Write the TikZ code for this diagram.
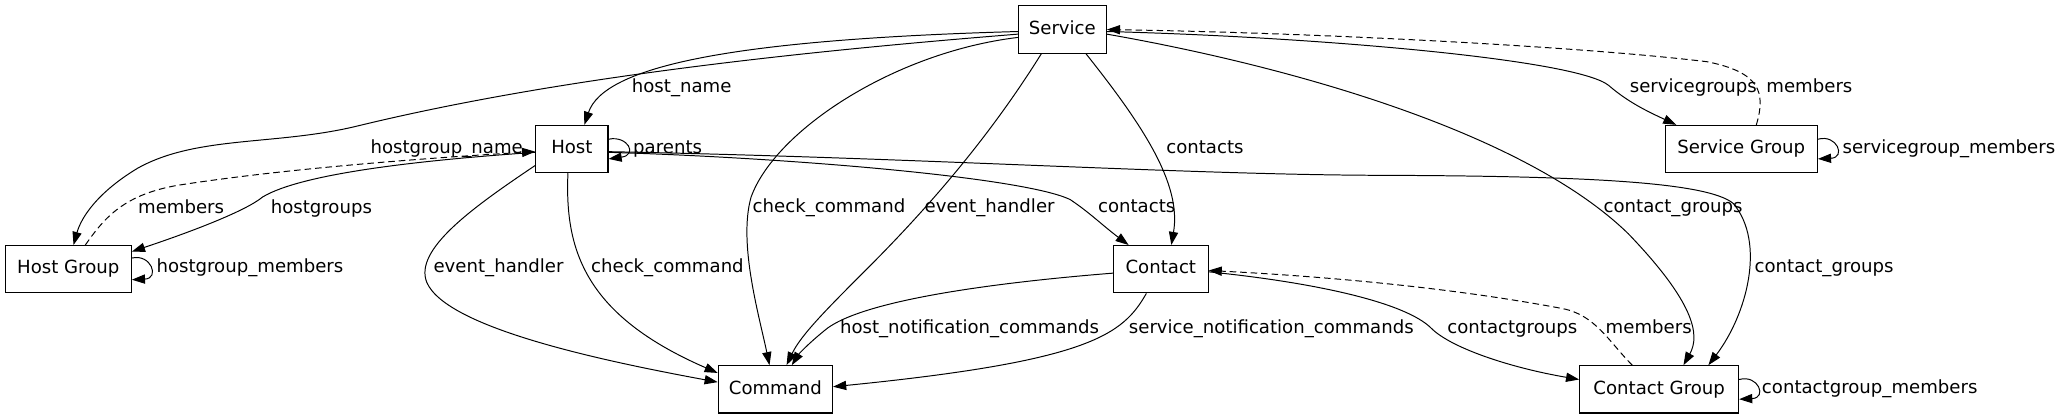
\documentclass[tikz,border=0pt]{standalone}
\usepackage{fontspec}
\setmainfont{DejaVu Sans}
\usetikzlibrary{arrows.meta,calc}
\newcommand\labfont{\fontsize{13.85pt}{16pt}\selectfont}
\begin{document}
\begin{tikzpicture}[x=1bp,y=-1bp,
  box/.style={draw,line width=0.85bp,rectangle,minimum height=36bp,inner sep=0pt,font=\labfont,text height=10.2bp,text depth=3bp},
  lab/.style={anchor=west,inner sep=0pt,font=\labfont,text height=10.2bp,text depth=3bp},
  edge/.style={line width=0.75bp,-{Triangle[length=10bp,width=7bp]}},
  dedge/.style={edge,dash pattern=on 5bp off 3bp}]
\useasboundingbox (0,0) rectangle (1568,319);
% nodes
\node[box,minimum width=67bp] (svc) at (809,22.5) {Service};
\node[box,minimum width=55bp] (host) at (435.5,113.5) {Host};
\node[box,minimum width=116bp] (sg) at (1326,113.5) {Service Group};
\node[box,minimum width=96bp] (hg) at (52,205) {Host Group};
\node[box,minimum width=72bp] (ct) at (884,205) {Contact};
\node[box,minimum width=87bp] (cmd) at (590.5,296.5) {Command};
\node[box,minimum width=121bp] (cg) at (1263.5,296.5) {Contact Group};
% labels
\node[lab] (l1) at (481,67) {host\_name};
\node[lab] (l2) at (282,113) {hostgroup\_name};
\node[lab] (l3) at (105,159) {members};
\node[lab] (l4) at (206,159) {hostgroups};
\node[lab] (l5) at (482,113) {parents};
\node[lab] (l6) at (119,204) {hostgroup\_members};
\node[lab] (l7) at (330,204) {event\_handler};
\node[lab] (l8) at (450,204) {check\_command};
\node[lab] (l9) at (573,158.6) {check\_command};
\node[lab] (l10) at (704,158.6) {event\_handler};
\node[lab] (l11) at (836,158.6) {contacts};
\node[lab] (l12) at (888,113) {contacts};
\node[lab] (l13) at (639.5,250) {host\_notification\_commands};
\node[lab] (l14) at (859.5,250) {service\_notification\_commands};
\node[lab] (l15) at (1241,67) {servicegroups};
\node[lab] (l16) at (1345,67) {members};
\node[lab] (l17) at (1403,113) {servicegroup\_members};
\node[lab] (l18) at (1221,158.6) {contact\_groups};
\node[lab] (l19) at (1336,204) {contact\_groups};
\node[lab] (l20) at (1102,250) {contactgroups};
\node[lab] (l21) at (1222.6,250) {members};
\node[lab] (l22) at (1341.6,296) {contactgroup\_members};
% edges
\draw[edge] ($(svc.west)+(0,1.5)$) .. controls (560,30) and (460,50) .. ($(host.north)+(9.5,0)$);
\draw[edge] ($(svc.west)+(0,3.5)$) .. controls (600,40) and (420,60) .. (272,96) .. controls (210,111) and (150,103) .. (105,128) .. controls (75,146) and (62,165) .. ($(hg.north)+(4,0)$);
\draw[dedge] ($(hg.north)+(13,0)$) .. controls (80,165) and (95,148) .. (136,141) .. controls (220,128) and (330,120) .. ($(host.west)+(0,2)$);
\draw[edge] ($(host.west)+(0,2.5)$) .. controls (320,122) and (230,132) .. (200,150) .. controls (188,160) and (150,175) .. ($(hg.north east)+(0,5)$);
\draw[edge] ($(host.east)+(0,-7.5)$) .. controls (478,103) and (486,118) .. ($(host.east)+(0,7.5)$);
\draw[edge] ($(host.west)+(0,12.5)$) .. controls (360,158) and (315,190) .. (325,215) .. controls (340,250) and (460,275) .. ($(cmd.west)+(0,-5.5)$);
\draw[edge] ($(host.south)+(-3,0)$) .. controls (430,190) and (445,240) .. ($(cmd.west)+(0,-12.5)$);
\draw[edge] ($(svc.west)+(0,6)$) .. controls (680,40) and (590,100) .. (572,150) .. controls (562,185) and (578,240) .. ($(cmd.north)+(-4.5,0)$);
\draw[edge] ($(svc.south)+(-16,0)$) .. controls (750,110) and (700,165) .. (660,205) .. controls (630,235) and (610,255) .. ($(cmd.north)+(8.5,0)$);
\draw[edge] ($(ct.west)+(0,3)$) .. controls (760,215) and (660,228) .. (630,250) .. controls (615,262) and (608,270) .. ($(cmd.north)+(12.5,0)$);
\draw[edge] ($(ct.south)+(-11,0)$) .. controls (855,255) and (830,275) .. ($(cmd.east)+(0,-2)$);
\draw[edge] ($(host.east)+(0,2.5)$) .. controls (600,120) and (780,135) .. (815,152) .. controls (830,162) and (840,172) .. ($(ct.north)+(-24.5,0)$);
\draw[edge] ($(host.east)+(0,2)$) .. controls (700,120) and (900,133) .. (1050,133.5) .. controls (1200,134) and (1300,138) .. (1320,155) .. controls (1345,185) and (1330,240) .. ($(cg.north)+(37.5,0)$);
\draw[edge] ($(svc.south)+(18,0)$) .. controls (870,95) and (900,140) .. ($(ct.north)+(8,0)$);
\draw[edge] ($(svc.east)+(0,3.5)$) .. controls (980,50) and (1160,100) .. (1240,178) .. controls (1290,230) and (1295,255) .. ($(cg.north)+(18.5,0)$);
\draw[edge] ($(svc.east)+(0,1.5)$) .. controls (1000,28) and (1200,45) .. (1225,65) .. controls (1240,78) and (1255,85) .. ($(sg.north west)+(9,0)$);
\draw[dedge] ($(sg.north)+(11.5,0)$) .. controls (1345,70) and (1340,55) .. (1300,47) .. controls (1200,35) and (1000,25) .. (svc.east);
\draw[edge] ($(ct.east)+(0,2)$) .. controls (1000,215) and (1070,230) .. (1090,250) .. controls (1105,265) and (1150,280) .. ($(cg.west)+(0,-7.5)$);
\draw[dedge] ($(cg.north)+(-20.5,0)$) .. controls (1225,260) and (1215,240) .. (1190,235) .. controls (1100,218) and (1000,210) .. ($(ct.east)+(0,1)$);
% self loops
\draw[edge] ($(hg.east)+(0,-8.5)$) .. controls (115,193) and (122,212) .. ($(hg.east)+(0,8)$);
\draw[edge] ($(sg.east)+(0,-7.5)$) .. controls (1399,102) and (1406,120) .. ($(sg.east)+(0,7.5)$);
\draw[edge] ($(cg.east)+(0,-7.5)$) .. controls (1339,285) and (1346,303) .. ($(cg.east)+(0,7.5)$);
\end{tikzpicture}
\end{document}
